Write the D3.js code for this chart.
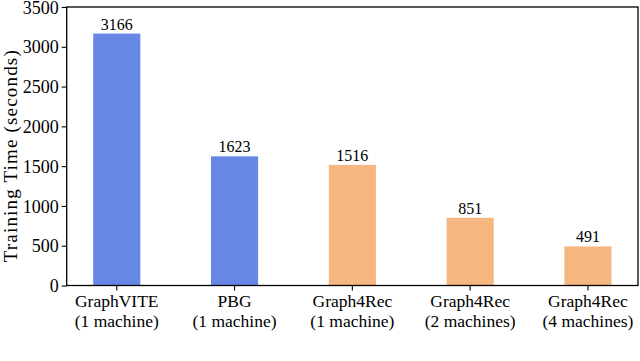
<!DOCTYPE html>
<html>
<head>
<meta charset="utf-8">
<title>Training time</title>
<script src="https://d3js.org/d3.v7.min.js"></script>
<style>
  * { margin: 0; padding: 0; }
  body { background: #fff; overflow: hidden; }
  svg { display: block; }
</style>
</head>
<body>
<div id="chart"></div>
<script>
// data
const methods = ["GraphVITE", "PBG", "Graph4Rec", "Graph4Rec", "Graph4Rec"];
const setups = ["(1 machine)", "(1 machine)", "(1 machine)", "(2 machines)", "(4 machines)"];
const seconds = [3166, 1623, 1516, 851, 491];
const groups = ["baseline", "baseline", "ours", "ours", "ours"];
const yTicks = [0, 500, 1000, 1500, 2000, 2500, 3000, 3500];

const width = 640, height = 361;
const margin = { top: 7, right: 2, bottom: 75.5, left: 66.7 };
const colors = { baseline: "#6787e7", ours: "#f6b680" };
const serif = '"Liberation Serif", "Times New Roman", serif';

const svg = d3.select("#chart").append("svg")
  .attr("width", width)
  .attr("height", height)
  .style("font-family", serif);

const x = d3.scaleBand()
  .domain(d3.range(seconds.length))
  .range([margin.left, width - margin.right])
  .paddingInner(0.6)
  .paddingOuter(0.225);

const y = d3.scaleLinear()
  .domain([0, 3500])
  .range([height - margin.bottom, margin.top]);

// bars
svg.selectAll("rect.bar")
  .data(seconds)
  .join("rect")
  .attr("class", "bar")
  .attr("x", (d, i) => x(i))
  .attr("y", d => y(d))
  .attr("width", x.bandwidth())
  .attr("height", d => y(0) - y(d))
  .attr("fill", (d, i) => colors[groups[i]]);

// value labels
svg.selectAll("text.val")
  .data(seconds)
  .join("text")
  .attr("class", "val")
  .attr("x", (d, i) => x(i) + x.bandwidth() / 2)
  .attr("y", d => y(d) - 4)
  .attr("text-anchor", "middle")
  .style("font-family", serif)
  .style("font-size", "16px")
  .attr("fill", "#000")
  .text(d => d);

// y axis
const yAxis = svg.append("g")
  .attr("transform", `translate(${margin.left},0)`)
  .call(d3.axisLeft(y).tickValues(yTicks).tickFormat(d3.format("d")).tickSize(5).tickPadding(3));
yAxis.select(".domain").remove();
yAxis.selectAll("line").attr("stroke", "#000").attr("stroke-width", 1.1);
yAxis.selectAll("text")
  .style("font-family", serif)
  .style("font-size", "18px")
  .attr("fill", "#000")
  .attr("dy", "0.34em");

// x axis
const xAxis = svg.append("g")
  .attr("transform", `translate(0,${y(0)})`)
  .call(d3.axisBottom(x).tickSize(5).tickFormat(""));
xAxis.select(".domain").remove();
xAxis.selectAll("line").attr("stroke", "#000").attr("stroke-width", 1.1);
xAxis.selectAll(".tick").each(function(d) {
  const t = d3.select(this).append("text")
    .attr("text-anchor", "middle")
    .attr("fill", "#000")
    .style("font-family", serif)
    .style("font-size", "17.5px");
  t.append("tspan").attr("x", 0).attr("y", 21.5).text(methods[d]);
  t.append("tspan").attr("x", 0).attr("y", 41.5).text(setups[d]);
});

// frame
svg.append("rect")
  .attr("x", margin.left)
  .attr("y", margin.top)
  .attr("width", width - margin.right - margin.left)
  .attr("height", y(0) - margin.top)
  .attr("fill", "none")
  .attr("stroke", "#000")
  .attr("stroke-width", 1.3);

// y label
svg.append("text")
  .attr("transform", `translate(17,${(margin.top + y(0)) / 2 + 10}) rotate(-90)`)
  .attr("text-anchor", "middle")
  .style("font-family", serif)
  .style("font-size", "19px")
  .attr("textLength", 212)
  .attr("lengthAdjust", "spacing")
  .text("Training Time (seconds)");

// caption (only its top edge shows at the bottom of the page)
svg.append("text")
  .attr("x", 33)
  .attr("y", 375)
  .style("font-family", serif)
  .style("font-size", "20px")
  .style("fill", "#555")
  .text("Figure 3: The running time on Ten15 with 3 billion edges.");
</script>
</body>
</html>
